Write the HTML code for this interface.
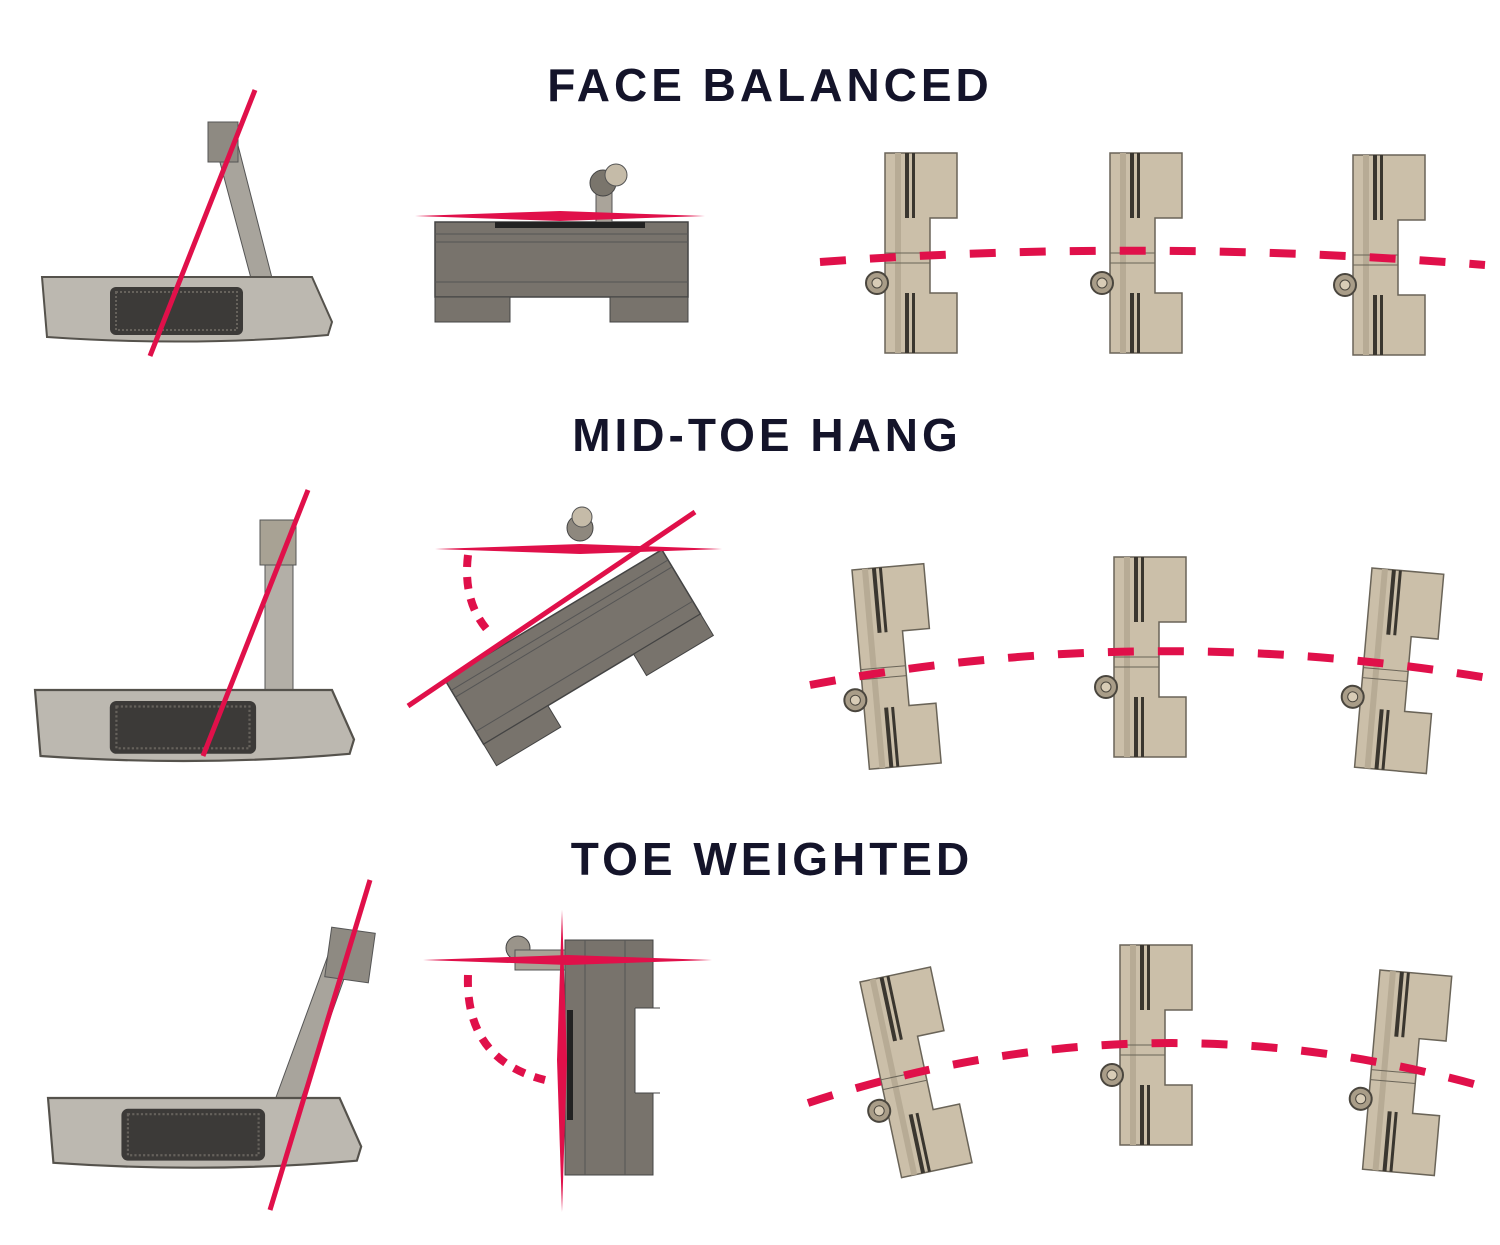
<!DOCTYPE html>
<html><head><meta charset="utf-8"><style>
html,body{margin:0;padding:0;background:#fff;}
body{width:1500px;height:1245px;overflow:hidden;position:relative;}
.t{position:absolute;font-family:"Liberation Sans",sans-serif;font-weight:bold;font-size:46px;letter-spacing:4px;color:#14142a;white-space:nowrap;transform:translateX(-50%);}
</style></head><body>
<div class="t" style="left:770px;top:58px">FACE BALANCED</div>
<div class="t" style="left:767px;top:408px">MID-TOE HANG</div>
<div class="t" style="left:772px;top:832px">TOE WEIGHTED</div>
<svg width="1500" height="1245" style="position:absolute;left:0;top:0">
<defs>
<g id="head">
 <polygon points="0,0 72,0 72,65 45,65 45,140 72,140 72,200 0,200" fill="#cbbfa9" stroke="#6a6458" stroke-width="1.5"/>
 <rect x="10" y="0" width="6" height="200" fill="#b7ab95"/>
 <rect x="20" y="0" width="4" height="65" fill="#3a362f"/>
 <rect x="27" y="0" width="3" height="65" fill="#3a362f"/>
 <rect x="20" y="140" width="4" height="60" fill="#3a362f"/>
 <rect x="27" y="140" width="3" height="60" fill="#3a362f"/>
 <line x1="0" y1="100" x2="45" y2="100" stroke="#6a6458"/>
 <line x1="0" y1="110" x2="45" y2="110" stroke="#6a6458"/>
 <circle cx="-8" cy="130" r="11" fill="#a99d88" stroke="#4a463e" stroke-width="2"/>
 <circle cx="-8" cy="130" r="5" fill="#d8ccb6" stroke="#4a463e"/>
</g>
<g id="side">
 <path d="M0,0 L270,0 L290,45 L286,58 Q150,70 5,60 Z" fill="#bcb8b0" stroke="#55524c" stroke-width="2"/>
 <rect x="68" y="10" width="133" height="48" rx="6" fill="#3c3a38"/>
 <rect x="74" y="15" width="121" height="38" fill="none" stroke="#66625c" stroke-width="2" stroke-dasharray="2 2"/>
</g>
<g id="top">
 <rect x="0" y="0" width="253" height="75" fill="#78736c" stroke="#444" stroke-width="1.5"/>
 <line x1="0" y1="12" x2="253" y2="12" stroke="#555"/>
 <line x1="0" y1="20" x2="253" y2="20" stroke="#555"/>
 <line x1="0" y1="60" x2="253" y2="60" stroke="#555"/>
 <rect x="0" y="75" width="75" height="25" fill="#78736c" stroke="#444"/>
 <rect x="175" y="75" width="78" height="25" fill="#78736c" stroke="#444"/>
</g>
</defs>

<polygon points="210,125 232,122 272,278 252,282" fill="#a8a49c" stroke="#555"/>
<rect x="208" y="122" width="30" height="40" fill="#8e8a82" stroke="#555"/>
<use href="#side" x="42" y="277"/>
<line x1="255" y1="90" x2="150" y2="356" stroke="#e0104a" stroke-width="5"/>
<use href="#top" x="435" y="222"/>
<rect x="596" y="188" width="16" height="34" fill="#aaa49a" stroke="#555"/>
<circle cx="603" cy="183" r="13" fill="#7a756c" stroke="#444"/>
<circle cx="616" cy="175" r="11" fill="#c5bba8" stroke="#555"/>
<rect x="495" y="222" width="150" height="6" fill="#222"/>
<polygon points="415,216 560,211 705,216 560,221" fill="#e0104a"/>
<use href="#head" x="885" y="153"/>
<use href="#head" x="1110" y="153"/>
<use href="#head" x="1353" y="155"/>
<path d="M820,262 Q1150,238 1485,265" fill="none" stroke="#e0104a" stroke-width="8" stroke-dasharray="26 24"/>

<rect x="265" y="540" width="28" height="152" fill="#b3afa7" stroke="#555"/>
<rect x="260" y="520" width="36" height="45" fill="#a8a294" stroke="#555"/>
<use href="#side" transform="translate(35,690) scale(1.1 1.1)"/>
<line x1="308" y1="490" x2="203" y2="756" stroke="#e0104a" stroke-width="5"/>
<g transform="translate(445,680) rotate(-31)">
 <use href="#top" x="0" y="0"/>
</g>
<circle cx="580" cy="528" r="13" fill="#8e887e" stroke="#444"/>
<circle cx="582" cy="517" r="10" fill="#c5bba8" stroke="#555"/>
<polygon points="435,549 580,544 722,549 580,554" fill="#e0104a"/>
<line x1="408" y1="706" x2="695" y2="512" stroke="#e0104a" stroke-width="5"/>
<path d="M468,555 Q462,605 492,635" fill="none" stroke="#e0104a" stroke-width="8" stroke-dasharray="12 10"/>
<use href="#head" transform="translate(852,570) rotate(-5)"/>
<use href="#head" x="1114" y="557"/>
<use href="#head" transform="translate(1372,568) rotate(5)"/>
<path d="M810,685 Q1150,620 1500,680" fill="none" stroke="#e0104a" stroke-width="8" stroke-dasharray="26 24"/>

<polygon points="330,950 355,948 300,1102 275,1100" fill="#a8a49c" stroke="#555"/>
<rect x="328" y="930" width="44" height="50" fill="#8e8a82" stroke="#555" transform="rotate(8 350 955)"/>
<use href="#side" transform="translate(48,1098) scale(1.08 1.08)"/>
<line x1="370" y1="880" x2="270" y2="1210" stroke="#e0104a" stroke-width="5"/>
<rect x="565" y="940" width="88" height="235" fill="#78736c" stroke="#444"/>
<line x1="585" y1="940" x2="585" y2="1175" stroke="#555"/>
<line x1="625" y1="940" x2="625" y2="1175" stroke="#555"/>
<rect x="635" y="1008" width="25" height="85" fill="#fff"/>
<line x1="635" y1="1008" x2="660" y2="1008" stroke="#444"/>
<line x1="635" y1="1093" x2="660" y2="1093" stroke="#444"/>
<line x1="635" y1="1008" x2="635" y2="1093" stroke="#444"/>
<rect x="567" y="1010" width="6" height="110" fill="#222"/>
<circle cx="518" cy="948" r="12" fill="#9a948a" stroke="#444"/>
<rect x="515" y="950" width="50" height="20" fill="#a9a396" stroke="#555"/>
<polygon points="423,960 568,955 712,960 568,965" fill="#e0104a"/>
<polygon points="562,910 567,1060 562,1212 557,1060" fill="#e0104a"/>
<path d="M468,975 Q465,1060 545,1080" fill="none" stroke="#e0104a" stroke-width="8" stroke-dasharray="12 10"/>
<use href="#head" transform="translate(860,982) rotate(-12)"/>
<use href="#head" x="1120" y="945"/>
<use href="#head" transform="translate(1380,970) rotate(5)"/>
<path d="M808,1103 Q1150,990 1495,1090" fill="none" stroke="#e0104a" stroke-width="8" stroke-dasharray="26 24"/>
</svg>
</body></html>
